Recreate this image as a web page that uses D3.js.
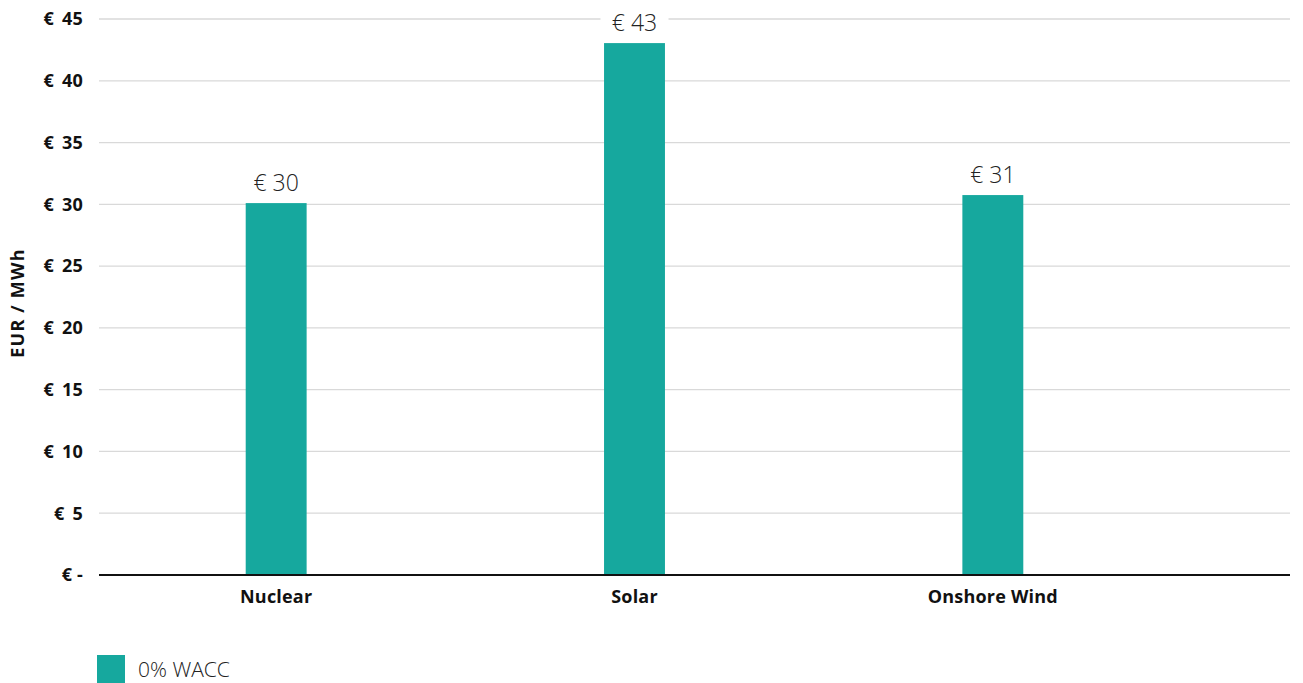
<!DOCTYPE html>
<html>
<head>
<meta charset="utf-8">
<script src="https://cdn.jsdelivr.net/npm/d3@7"></script>
<style>
  body { margin: 0; background: #fff; }
  svg { display: block; font-family: "Open Sans", sans-serif; }
  .tick-label { font-size: 18px; font-weight: 700; fill: #111; letter-spacing: 0.2px; }
  .axis-title { font-size: 18px; font-weight: 700; fill: #111; letter-spacing: 1.2px; }
  .value-label { font-size: 23px; font-weight: 300; fill: #222; }
  .legend-label { font-size: 21px; font-weight: 300; fill: #222; }
</style>
</head>
<body>
<svg width="1303" height="683"></svg>
<script>
const categories = ['Nuclear', 'Solar', 'Onshore Wind'];
const values = [30.1, 43.05, 30.75];
const yTicks = [0, 5, 10, 15, 20, 25, 30, 35, 40, 45];
const seriesName = '0% WACC';

const svg = d3.select('svg');
const plotLeft = 99;
const plotRight = 1290;
const plotTop = 19;
const plotBottom = 575;
const color = '#16a89e';

const x = d3.scaleBand()
  .domain(categories)
  .range([97, 1172])
  .paddingInner(0.83)
  .paddingOuter(0.415);

const y = d3.scaleLinear()
  .domain([0, 45])
  .range([plotBottom, plotTop]);

// gridlines
svg.append('g')
  .selectAll('line')
  .data(yTicks.filter(d => d > 0))
  .enter()
  .append('line')
  .attr('x1', plotLeft)
  .attr('x2', plotRight)
  .attr('y1', d => y(d))
  .attr('y2', d => y(d))
  .attr('stroke', '#d9d9d9')
  .attr('stroke-width', 1.3);

// y tick labels
svg.append('g')
  .selectAll('text')
  .data(yTicks)
  .enter()
  .append('text')
  .attr('class', 'tick-label')
  .attr('x', 83)
  .attr('y', d => y(d))
  .attr('dy', '0.35em')
  .attr('text-anchor', 'end')
  .text(d => d === 0 ? '€ -' : `€\u00a0\u2009${d}`);

// bars
svg.append('g')
  .selectAll('rect')
  .data(values)
  .enter()
  .append('rect')
  .attr('x', (_, i) => x(categories[i]))
  .attr('y', d => y(d))
  .attr('width', x.bandwidth())
  .attr('height', d => y(0) - y(d))
  .attr('fill', color);

// baseline
svg.append('line')
  .attr('x1', plotLeft)
  .attr('x2', plotRight)
  .attr('y1', y(0))
  .attr('y2', y(0))
  .attr('stroke', '#111')
  .attr('stroke-width', 2);

// value labels with white background
const labels = svg.append('g')
  .selectAll('g')
  .data(values)
  .enter()
  .append('g')
  .attr('transform', (d, i) => `translate(${x(categories[i]) + x.bandwidth() / 2}, ${y(d) - 20})`);

labels.append('rect')
  .attr('x', -34)
  .attr('y', -14)
  .attr('width', 68)
  .attr('height', 28)
  .attr('fill', '#fff');

labels.append('text')
  .attr('class', 'value-label')
  .attr('text-anchor', 'middle')
  .attr('dy', '0.35em')
  .text(d => `€ ${Math.round(d)}`);

// category labels
svg.append('g')
  .selectAll('text')
  .data(categories)
  .enter()
  .append('text')
  .attr('class', 'tick-label')
  .attr('x', d => x(d) + x.bandwidth() / 2)
  .attr('y', 597)
  .attr('dy', '0.35em')
  .attr('text-anchor', 'middle')
  .text(d => d);

// y axis title
svg.append('text')
  .attr('class', 'axis-title')
  .attr('transform', `translate(18, ${(plotTop + plotBottom) / 2 + 6}) rotate(-90)`)
  .attr('text-anchor', 'middle')
  .attr('dy', '0.35em')
  .text('EUR / MWh');

// legend
svg.append('rect')
  .attr('x', 97)
  .attr('y', 655)
  .attr('width', 28)
  .attr('height', 28)
  .attr('fill', color);

svg.append('text')
  .attr('class', 'legend-label')
  .attr('x', 138)
  .attr('y', 670)
  .attr('dy', '0.35em')
  .text(seriesName);
</script>
</body>
</html>
